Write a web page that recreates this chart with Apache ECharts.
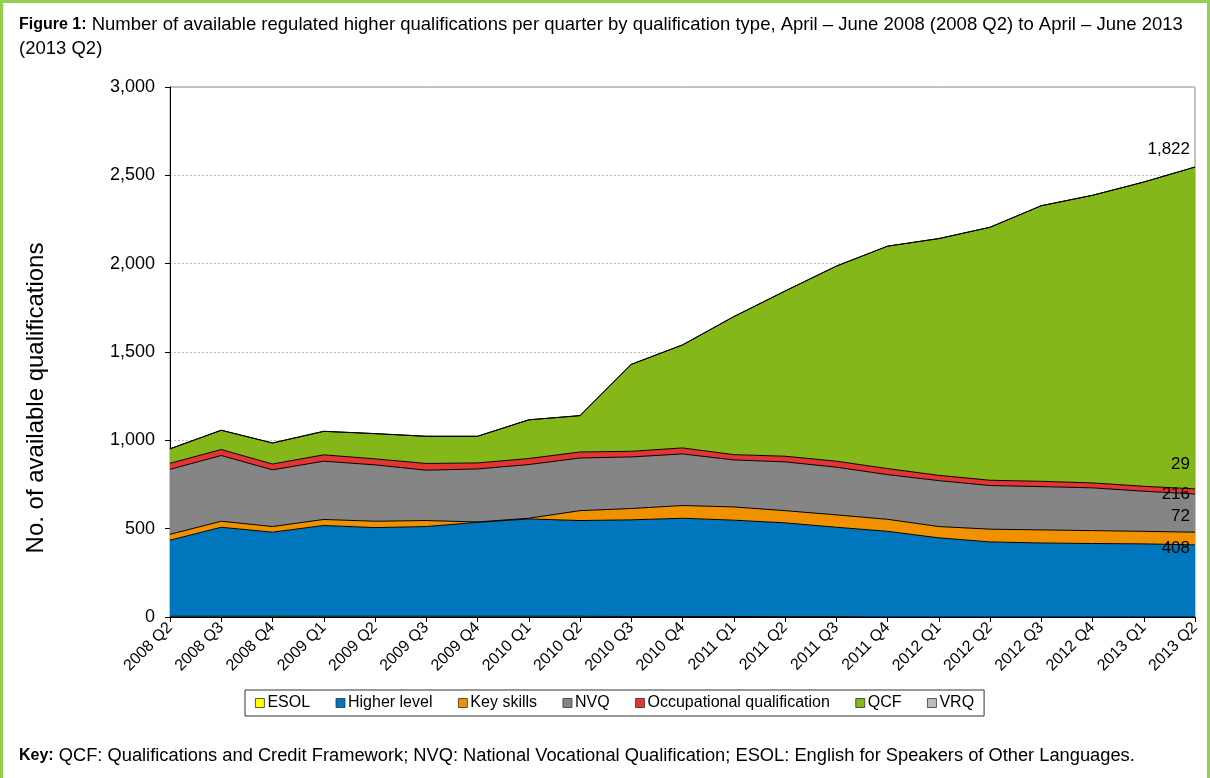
<!DOCTYPE html>
<html>
<head>
    <meta charset="utf-8">
    <script src="https://cdn.jsdelivr.net/npm/echarts@6/dist/echarts.min.js"></script>
    <style>
        html, body { margin: 0; padding: 0; background: #fff; }
        #frame { position: absolute; left: 0; top: 0; width: 1204px; height: 775px; border: 3px solid #92D050; border-bottom: none; }
    </style>
</head>

<body>
    <div id="frame"></div>
    <div id="main" style="position:absolute;left:0;top:0;width:1210px;height:778px;"></div>
    <script type="text/javascript">
        var quarters = ['2008 Q2', '2008 Q3', '2008 Q4', '2009 Q1', '2009 Q2', '2009 Q3', '2009 Q4',
            '2010 Q1', '2010 Q2', '2010 Q3', '2010 Q4', '2011 Q1', '2011 Q2', '2011 Q3', '2011 Q4',
            '2012 Q1', '2012 Q2', '2012 Q3', '2012 Q4', '2013 Q1', '2013 Q2'];

        // values per quarter (stack order bottom -> top)
        var esol       = [4, 4, 4, 4, 4, 4, 4, 4, 4, 3, 3, 3, 2, 2, 0, 0, 0, 0, 0, 0, 0];
        var higher     = [431, 504, 476, 514, 502, 508, 532, 551, 542, 547, 556, 545, 531, 506, 485, 448, 425, 419, 416, 414, 408];
        var keySkills  = [33, 34, 32, 34, 36, 34, 2, 4, 56, 64, 72, 75, 69, 70, 68, 64, 72, 74, 73, 71, 72];
        var nvq        = [368, 372, 321, 330, 319, 285, 300, 304, 298, 292, 292, 266, 276, 270, 253, 260, 247, 245, 242, 227, 216];
        var occupational = [34, 34, 33, 36, 34, 38, 34, 34, 34, 32, 34, 30, 32, 34, 34, 30, 30, 30, 28, 28, 29];
        var qcf        = [82, 109, 119, 133, 143, 154, 151, 219, 206, 492, 583, 781, 935, 1104, 1259, 1340, 1432, 1560, 1628, 1722, 1822];
        var vrq        = [0, 0, 0, 0, 0, 0, 0, 0, 0, 0, 0, 0, 0, 0, 0, 0, 0, 0, 0, 0, 0];

        var font = 'Liberation Sans, Arial, sans-serif';

        function fmt(v) { return Number(v).toLocaleString('en-US'); }

        // end label at the last point, right aligned; a blank spacer line moves it up or down
        function endLab(shift) {
            return {
                show: true, align: 'right', verticalAlign: 'middle', distance: -5,
                color: '#000', fontSize: 17, fontFamily: font,
                formatter: function (p) {
                    if (shift < 0) return '{v|' + fmt(p.value) + '}\n{g| }';
                    if (shift > 0) return '{g| }\n{v|' + fmt(p.value) + '}';
                    return '{v|' + fmt(p.value) + '}';
                },
                rich: {
                    v: { fontSize: 17, fontFamily: font, color: '#000', lineHeight: 18, align: 'right' },
                    g: { fontSize: 1, lineHeight: Math.abs(shift) * 2 }
                }
            };
        }

        function area(name, data, color, label) {
            var s = {
                name: name, type: 'line', stack: 'all', data: data,
                symbol: 'none', animation: false,
                itemStyle: { color: color },
                lineStyle: { color: '#000', width: 1 },
                areaStyle: { color: color, opacity: 1 }
            };
            if (label) s.endLabel = label;
            return s;
        }

        var myChart = echarts.init(document.getElementById('main'));

        var option = {
            backgroundColor: 'transparent',
            title: [{
                left: 14, top: 8,
                text: '{b|Figure 1:} Number of available regulated higher qualifications per quarter by qualification type, April – June 2008 (2008 Q2) to April – June 2013\n(2013 Q2)',
                textStyle: {
                    fontFamily: font, fontSize: 18.5, fontWeight: 'normal', color: '#000', lineHeight: 24,
                    rich: { b: { fontFamily: font, fontSize: 16, fontWeight: 'bold', color: '#000', lineHeight: 24 } }
                }
            }, {
                left: 14, top: 742,
                text: '{b|Key:} QCF: Qualifications and Credit Framework; NVQ: National Vocational Qualification; ESOL: English for Speakers of Other Languages.',
                textStyle: {
                    fontFamily: font, fontSize: 18.3, fontWeight: 'normal', color: '#000',
                    rich: { b: { fontFamily: font, fontSize: 16, fontWeight: 'bold', color: '#000' } }
                }
            }],
            graphic: [{
                type: 'text', x: 36, y: 398, rotation: Math.PI / 2,
                style: {
                    text: 'No. of available qualifications', font: '24px ' + font, fill: '#000',
                    textAlign: 'center', textVerticalAlign: 'middle'
                }
            }],
            legend: {
                left: 245, top: 690,
                icon: 'rect', itemWidth: 9, itemHeight: 9, itemGap: 25.5,
                padding: [5, 10, 5, 10],
                borderColor: '#333', borderWidth: 1,
                itemStyle: { borderColor: '#333', borderWidth: 0.8 },
                textStyle: { fontFamily: font, fontSize: 16, color: '#000', padding: [0, 0, 0, -2] },
                data: ['ESOL', 'Higher level', 'Key skills', 'NVQ', 'Occupational qualification', 'QCF', 'VRQ']
            },
            grid: {
                left: 170, right: 15, top: 87, bottom: 161,
                show: true, borderColor: '#888', borderWidth: 1
            },
            xAxis: {
                type: 'category', data: quarters, boundaryGap: false,
                axisLine: { lineStyle: { color: '#000', width: 1 } },
                axisTick: { alignWithLabel: true, length: 5, lineStyle: { color: '#000' } },
                axisLabel: { rotate: 45, interval: 0, fontFamily: font, fontSize: 16, color: '#000', margin: 8 }
            },
            yAxis: {
                type: 'value', min: 0, max: 3000, interval: 500,
                axisLine: { show: true, lineStyle: { color: '#000', width: 1 } },
                axisTick: { show: true, length: 5, lineStyle: { color: '#000' } },
                axisLabel: { fontFamily: font, fontSize: 18, color: '#000', margin: 15, formatter: fmt },
                splitLine: { lineStyle: { color: '#bbb', type: [2, 2], width: 1 } }
            },
            series: [
                area('ESOL', esol, '#FFFF00'),
                area('Higher level', higher, '#0077BD', endLab(3)),
                area('Key skills', keySkills, '#F29100', endLab(-16)),
                area('NVQ', nvq, '#858585', endLab(0)),
                area('Occupational qualification', occupational, '#E53532', endLab(-25)),
                area('QCF', qcf, '#84B71A', endLab(-18)),
                area('VRQ', vrq, '#BDBDBD')
            ]
        };

        myChart.setOption(option);
    </script>
</body>
</html>
